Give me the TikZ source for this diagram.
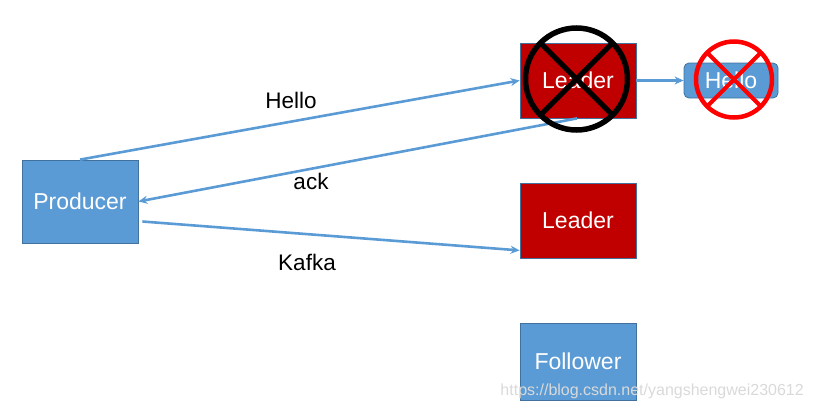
\documentclass[tikz,border=0pt]{standalone}
\usepackage{fontspec}
\setmainfont{Liberation Sans}
\usetikzlibrary{arrows.meta}
\definecolor{boxblue}{HTML}{5B9BD5}
\definecolor{boxedge}{HTML}{41719C}
\definecolor{boxred}{HTML}{C00000}
\definecolor{crossred}{HTML}{FF0000}
\definecolor{wmgray}{HTML}{D9D9D9}
\tikzset{
  box/.style={draw=boxedge, line width=0.8pt, minimum width=116pt, text=white, font=\fontsize{23}{26}\selectfont, inner sep=0pt},
  bluebox/.style={box, fill=boxblue},
  redbox/.style={box, fill=boxred},
  conn/.style={draw=boxblue, line width=2.6pt, -{Stealth[length=9pt,width=8pt]}},
  lbl/.style={font=\fontsize{22.5}{26}\selectfont, text=black, inner sep=0pt},
}
\begin{document}
\begin{tikzpicture}[x=1pt,y=-1pt]
\useasboundingbox (0,0) rectangle (814,410);
\node[bluebox, minimum height=83pt] (producer) at (80,201.5) {Producer};
\node[redbox, minimum height=75pt] (leaderA) at (578,80.5) {Leader};
\node[redbox, minimum height=75pt] (leaderB) at (578,220.5) {Leader};
\node[bluebox, minimum height=77pt] (follower) at (578,361.5) {Follower};
\node[bluebox, rounded corners=5pt, minimum width=94pt, minimum height=35pt] (hello) at (731,80.5) {Hello};

\draw[conn] (producer.north) -- (leaderA.west);
\draw[conn] ([xshift=-1pt]leaderA.south) -- (producer.east);
\draw[conn] ([xshift=4pt,yshift=-20pt]producer.east) -- ([yshift=8pt]leaderB.south west);
\draw[conn] (leaderA.east) -- (hello.west);

\node[lbl] (lhello) at (291,100) {Hello};
\node[lbl] (lack) at (311,181) {ack};
\node[lbl] (lkafka) at (307,262) {Kafka};

% black cross circle
\draw[black, line width=5.5pt] (576.5,79) circle (51);
\draw[black, line width=5pt] (576.5,79) ++(-36,-36) -- ++(72,72);
\draw[black, line width=5pt] (576.5,79) ++(36,-36) -- ++(-72,72);
% red cross circle
\draw[crossred, line width=4.5pt] (734,79.5) circle (38);
\draw[crossred, line width=4pt] (734,79.5) ++(-27,-27) -- ++(54,54);
\draw[crossred, line width=4pt] (734,79.5) ++(27,-27) -- ++(-54,54);

\node[font=\fontsize{16}{18}\selectfont, text=wmgray, anchor=east, inner sep=0pt] (wm) at (804,391) {https://blog.csdn.net/yangshengwei230612};
\end{tikzpicture}
\end{document}
